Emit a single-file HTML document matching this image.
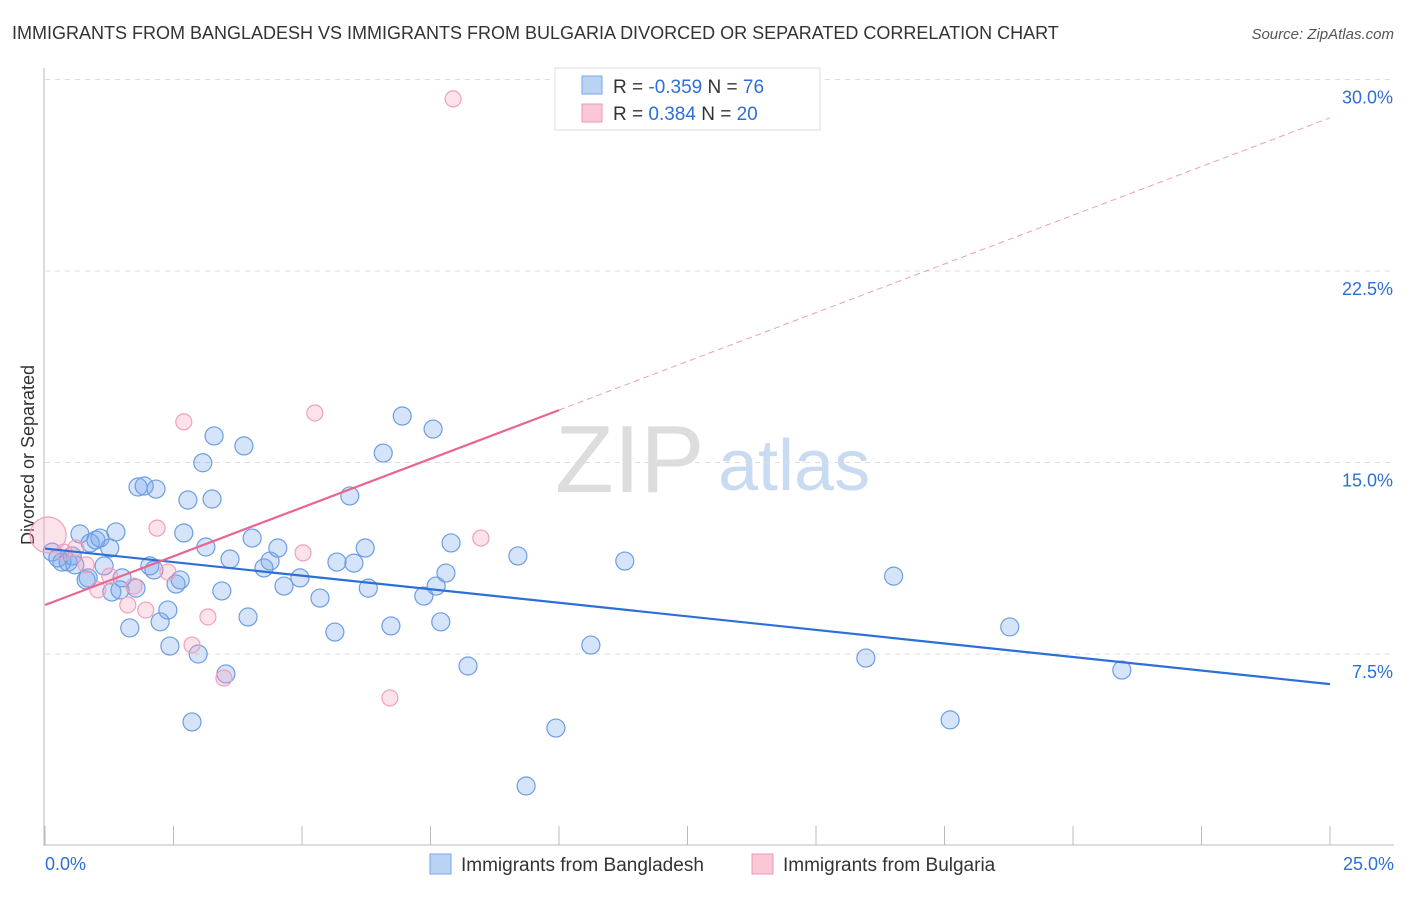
<!DOCTYPE html>
<html><head><meta charset="utf-8"><style>
body{margin:0;background:#fff;font-family:"Liberation Sans",sans-serif;}
svg text{font-family:"Liberation Sans",sans-serif;}
</style></head><body>
<svg width="1406" height="892">
<text x="12" y="39" font-size="18" fill="#333">IMMIGRANTS FROM BANGLADESH VS IMMIGRANTS FROM BULGARIA DIVORCED OR SEPARATED CORRELATION CHART</text>
<text x="1394" y="39" font-size="15" fill="#555" font-style="italic" text-anchor="end">Source: ZipAtlas.com</text>
<text x="0" y="0" transform="translate(34,455) rotate(-90)" font-size="18" fill="#333" text-anchor="middle">Divorced or Separated</text>
<g><text x="555" y="492" font-size="96" fill="#ddd" font-family="Liberation Serif">ZIP</text><text x="718" y="490" font-size="72" fill="#c8dbf2">atlas</text></g>
<g id="grid"></g><g id="axes"></g><g id="marks"></g><g id="lines"></g>
<g>
<rect x="555" y="68" width="265" height="62" fill="#fff" stroke="#ddd"/>
<rect x="582" y="76" width="20" height="18" fill="#b9d3f5" stroke="#7aa6e6"/>
<rect x="582" y="104" width="20" height="18" fill="#f9c7d6" stroke="#ec9ab3"/>
<text x="613" y="93" font-size="19" fill="#333">R = <tspan fill="#2e6fd6">-0.359</tspan>   N = <tspan fill="#2e6fd6">76</tspan></text>
<text x="613" y="120" font-size="19" fill="#333">R =  <tspan fill="#2e6fd6">0.384</tspan>   N = <tspan fill="#2e6fd6">20</tspan></text>
</g>
<g>
<rect x="430" y="854" width="21" height="20" fill="#b9d3f5" stroke="#7aa6e6"/>
<text x="461" y="871" font-size="19" fill="#333">Immigrants from Bangladesh</text>
<rect x="752" y="854" width="21" height="20" fill="#f9c7d6" stroke="#ec9ab3"/>
<text x="783" y="871" font-size="19" fill="#333">Immigrants from Bulgaria</text>
</g>
</svg>
<script>
const yTicks=[7.5,15,22.5,30];
const yTickLabels=["7.5%","15.0%","22.5%","30.0%"];
const xTickLabels=["0.0%","25.0%"];
const blueX=[0.14,0.25,0.33,0.45,0.53,0.68,0.88,0.99,1.07,1.15,0.84,0.80,1.38,1.50,1.30,1.46,1.65,1.77,1.81,1.93,2.16,2.04,2.12,2.24,2.39,2.43,2.55,2.63,2.70,2.78,2.86,2.98,3.07,3.13,3.25,3.29,3.44,3.52,3.60,3.87,3.95,4.03,4.26,4.38,4.53,4.65,4.96,5.35,5.64,5.68,5.93,6.01,6.23,6.29,6.58,6.73,6.95,7.37,7.55,7.61,7.70,7.80,7.90,8.23,9.20,9.94,9.36,10.62,11.28,15.97,16.51,17.61,18.77,20.95,1.26,0.58];
const blueY=[11.49,11.26,11.10,11.10,11.34,12.20,11.85,11.96,12.04,10.95,10.48,10.40,12.28,10.48,9.93,10.01,8.52,10.08,14.04,14.08,13.96,10.95,10.79,8.76,9.22,7.81,10.24,10.40,12.24,13.53,4.84,7.50,14.99,11.69,13.57,16.04,9.97,6.72,11.22,15.65,8.95,12.04,10.87,11.14,11.65,10.16,10.48,9.69,8.36,11.10,13.69,11.06,11.65,10.08,15.37,8.60,16.82,9.77,16.31,10.16,8.76,10.67,11.85,7.03,11.34,4.60,2.33,7.85,11.14,7.34,10.55,4.92,8.56,6.87,11.65,10.99];
const pinkX=[0.06,0.37,0.60,0.80,1.03,1.26,1.61,1.73,1.96,2.18,2.39,2.70,2.86,3.17,3.48,5.02,5.25,6.71,7.94,8.48];
const pinkY=[12.16,11.49,11.65,10.99,10.01,10.55,9.42,10.16,9.22,12.43,10.71,16.59,7.85,8.95,6.56,11.46,16.94,5.78,29.24,12.04];
const blueTrend=[11.63,6.32];
const pinkTrend=[9.42,28.5];
const NS="http://www.w3.org/2000/svg";
const X0=45,X1=1330,XMAX=25,Y0=845.5,YPER=191.5/7.5;
const sx=v=>X0+(X1-X0)*v/XMAX;
const sy=v=>Y0-v*YPER;
function mk(tag,attrs,parent){const e=document.createElementNS(NS,tag);for(const k in attrs)e.setAttribute(k,attrs[k]);document.getElementById(parent).appendChild(e);return e;}
yTicks.forEach((t,i)=>{
 const l=mk('line',{x1:45,x2:1394,y1:sy(t),y2:sy(t),stroke:'#ddd','stroke-dasharray':'5,5'},'grid');
 
 
 const tx=mk('text',{x:1393,y:sy(t)+24,'font-size':18,fill:'#2e6fd6','text-anchor':'end'},'grid');
 tx.textContent=yTickLabels[i];
 
 
});
const ax=mk('line',{x1:44,x2:44,y1:68,y2:846,stroke:'#bbb'},'axes');


const bx=mk('line',{x1:44,x2:1394,y1:845,y2:845,stroke:'#bbb'},'axes');


for(let i=0;i<=10;i++){
 const t=mk('line',{x1:sx(i*2.5),x2:sx(i*2.5),y1:826,y2:845,stroke:'#bbb'},'axes');
 
 
}
[[0,'start',45],[25,'end',1394]].forEach((p,i)=>{
 const t=mk('text',{x:p[2],y:870,'font-size':18,fill:'#2e6fd6','text-anchor':p[1]},'axes');
 t.textContent=xTickLabels[i];
 
 
});
blueX.forEach((v,i)=>{
 const c=mk('circle',{cx:sx(v),cy:sy(blueY[i]),r:9,fill:'rgba(120,165,235,0.3)',stroke:'#6c9de3','stroke-width':1.2},'marks');
 
 
});
pinkX.forEach((v,i)=>{
 const c=mk('circle',{cx:sx(v),cy:sy(pinkY[i]),r:i===0?18:8,fill:'rgba(245,160,190,0.3)',stroke:'#f0a0ba','stroke-width':1.2},'marks');
 
 
});
const bl=mk('line',{x1:sx(0),y1:sy(blueTrend[0]),x2:sx(25),y2:sy(blueTrend[1]),stroke:'#2d6fd6','stroke-width':2.2},'lines');


const pAt=v=>pinkTrend[0]+(pinkTrend[1]-pinkTrend[0])*v/25;
const pl=mk('line',{x1:sx(0),y1:sy(pAt(0)),x2:sx(10),y2:sy(pAt(10)),stroke:'#e8668f','stroke-width':2.2},'lines');


const pd=mk('line',{x1:sx(10),y1:sy(pAt(10)),x2:sx(25),y2:sy(pAt(25)),stroke:'#eaa0b8','stroke-width':1,'stroke-dasharray':'6,4'},'lines');


</script>
</body></html>
